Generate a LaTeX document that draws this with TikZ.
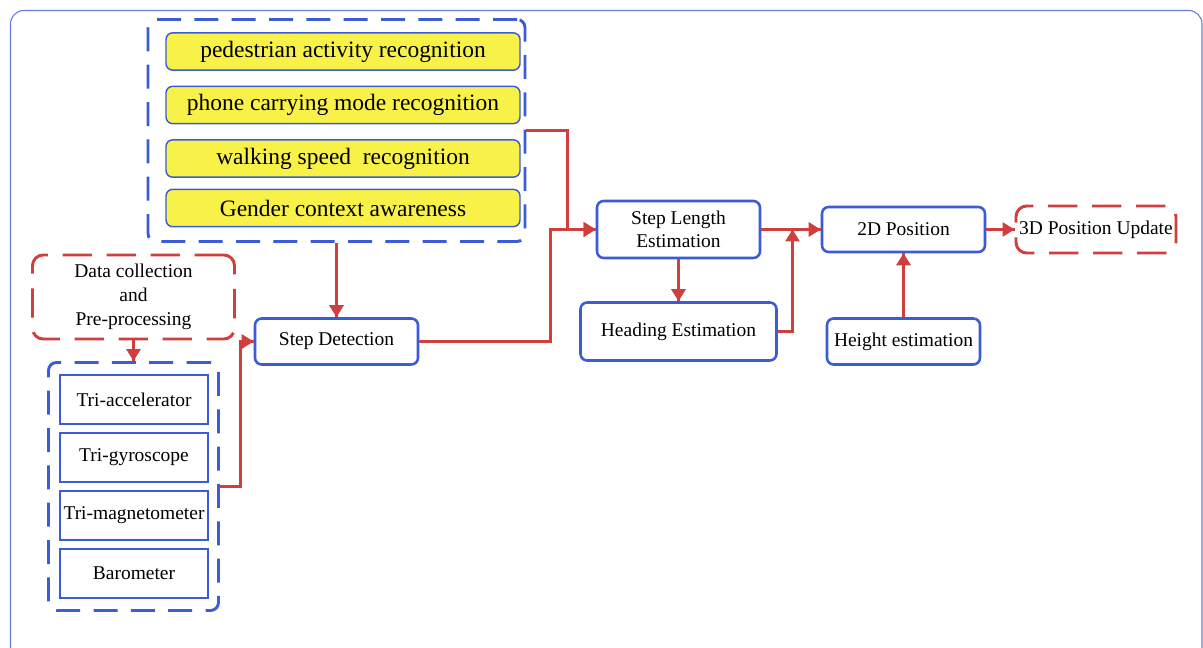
\documentclass[tikz,border=0pt]{standalone}
\usepackage{fontspec}
\setmainfont{Liberation Serif}
\usepackage{tikz}
\usetikzlibrary{arrows.meta}
\usetikzlibrary{decorations.markings}
\definecolor{boxblue}{RGB}{59,92,214}
\definecolor{flowred}{RGB}{208,62,62}
\definecolor{boxyellow}{RGB}{248,242,72}
\tikzset{flow/.style = {draw=flowred, line width=2.2pt,
                        decoration={markings,
                                    mark=at position 1 with {\arrow{Triangle[length=9pt, width=10.5pt]}}},
                        postaction={decorate}}}
\tikzset{blk/.style = {draw=boxblue, line width=1.9pt, rounded corners=5pt, fill=white,
                       align=center, inner sep=2pt, font=\fontsize{14.6}{17}\selectfont}}
\tikzset{ctx/.style = {draw=boxblue, line width=1.1pt, rounded corners=5pt, fill=boxyellow,
                       minimum width=265.5pt, minimum height=28pt, inner sep=1pt,
                       font=\fontsize{17.6}{20}\selectfont}}
\tikzset{sensor/.style = {draw=boxblue, line width=1.5pt, minimum width=111pt,
                          minimum height=36.75pt, inner sep=1pt,
                          font=\fontsize{14.6}{17}\selectfont}}
\tikzset{grpblue/.style = {draw=boxblue, line width=2.2pt, rounded corners=6pt,
                           dash pattern=on 18pt off 10pt}}
\tikzset{grpred/.style = {draw=flowred, line width=2.2pt, rounded corners=8pt,
                          dash pattern=on 22pt off 11pt, align=center, inner sep=1pt,
                          font=\fontsize{14.6}{18}\selectfont}}

\begin{document}
\begin{tikzpicture}[x=0.75pt, y=-0.75pt]
    \useasboundingbox (0, 0) rectangle (1203, 648);
    \clip (0, 0) rectangle (1203, 648);
    \draw [boxblue!80, line width=0.8pt, rounded corners=10pt] (10.5, 10.5) rectangle (1202, 680);

    % context recognition
    \node [grpblue, minimum width=282.75pt, minimum height=166.5pt] (grpA) at (336.5, 130.5) {};
    \node [ctx] (pa) at (343, 51.5) {pedestrian activity recognition};
    \node [ctx] (pc) at (343, 105) {phone carrying mode recognition};
    \node [ctx] (ws) at (343, 158.5) {walking speed\ \ recognition};
    \node [ctx] (gc) at (343, 208) {Gender context awareness};

    % sensors
    \node [grpred, minimum width=151.5pt, minimum height=63pt] (dc) at (133.5, 297)
        {Data collection\\and\\Pre-processing};
    \node [grpblue, minimum width=127.5pt, minimum height=186pt] (grpS) at (133.5, 486.5) {};
    \node [sensor] (acc) at (134, 399.5) {Tri-accelerator};
    \node [sensor] (gyr) at (134, 457.5) {Tri-gyroscope};
    \node [sensor] (mag) at (134, 515.5) {Tri-magnetometer};
    \node [sensor] (bar) at (134, 573.5) {Barometer};

    % estimation chain
    \node [blk, minimum width=122.25pt, minimum height=34.5pt] (sd) at (336.5, 341.5) {Step Detection};
    \node [blk, minimum width=122.25pt, minimum height=42.75pt] (sl) at (678.5, 229.5) {Step Length\\Estimation};
    \node [blk, minimum width=147pt, minimum height=43.5pt] (he) at (678.5, 331.5) {Heading Estimation};
    \node [blk, minimum width=122.25pt, minimum height=33.75pt] (p2) at (903.5, 229.5) {2D Position};
    \node [blk, minimum width=114.75pt, minimum height=34.5pt] (hg) at (903.5, 341.5) {Height estimation};
    \node [grpred, minimum width=120pt, minimum height=35.25pt] (p3) at (1096, 229.5) {3D Position Update};

    \coordinate (j1) at (550.5, 229.5);
    \coordinate (j2) at (567.5, 229.5);
    \coordinate (j3) at (240.5, 341.5);
    \coordinate (j4) at (792.5, 229.5);

    \draw [flow] (dc.south) -- (grpS.north);
    \draw [flow] (grpS.east) -| (j3) -- (sd.west);
    \draw [flow] (grpA.south) -- (sd.north);
    \draw [flow] (grpA.east) -| (j2) -- (sl.west);
    \draw [flow] (sd.east) -| (j1) -- (sl.west);
    \draw [flow] (sl.south) -- (he.north);
    \draw [flow] (sl.east) -- (p2.west);
    \draw [flow] (he.east) -| (j4);
    \draw [flow] (hg.north) -- (p2.south);
    \draw [flow] (p2.east) -- (p3.west);
\end{tikzpicture}
\end{document}
